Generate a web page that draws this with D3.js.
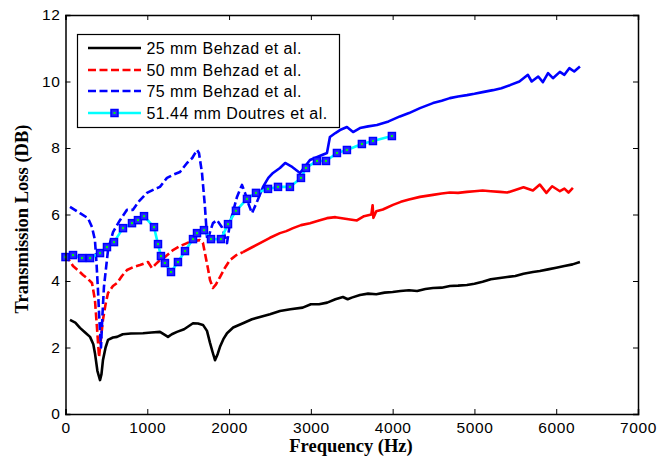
<!DOCTYPE html>
<html>
<head>
<meta charset="utf-8">
<script src="https://cdn.jsdelivr.net/npm/d3@7"></script>
<style>
  body { margin: 0; background: #fff; }
  svg { display: block; }
</style>
</head>
<body>
<svg id="chart" width="667" height="457"></svg>
<script>
// frequency (Hz) / transmission loss (dB)
const f25 = [55, 120, 177, 240, 300, 340, 360, 390, 422, 440, 458, 490, 520, 580, 630, 700, 800, 947, 1050, 1155, 1200, 1253, 1300, 1363, 1450, 1559, 1620, 1681, 1730, 1767, 1800, 1828, 1860, 1889, 1930, 1975, 2050, 2170, 2280, 2378, 2500, 2622, 2750, 2900, 3000, 3100, 3200, 3300, 3392, 3450, 3500, 3600, 3700, 3800, 3900, 4000, 4095, 4200, 4300, 4400, 4493, 4600, 4700, 4800, 4908, 5000, 5100, 5200, 5311, 5400, 5500, 5600, 5715, 5800, 5900, 6000, 6100, 6200, 6290]
const tl25 = [2.83, 2.75, 2.59, 2.45, 2.32, 2.1, 1.83, 1.3, 1.02, 1.2, 1.62, 2.0, 2.23, 2.3, 2.32, 2.4, 2.42, 2.43, 2.45, 2.47, 2.4, 2.32, 2.4, 2.47, 2.55, 2.73, 2.72, 2.68, 2.5, 2.14, 1.85, 1.62, 1.8, 2.02, 2.25, 2.43, 2.6, 2.73, 2.85, 2.92, 3.0, 3.1, 3.15, 3.2, 3.3, 3.3, 3.35, 3.45, 3.52, 3.45, 3.5, 3.58, 3.62, 3.6, 3.65, 3.67, 3.7, 3.72, 3.7, 3.76, 3.79, 3.8, 3.85, 3.86, 3.88, 3.92, 3.98, 4.05, 4.09, 4.12, 4.15, 4.22, 4.27, 4.3, 4.35, 4.4, 4.45, 4.5, 4.57]

const f50 = [0, 92, 150, 214, 280, 324, 360, 385, 410, 435, 458, 490, 520, 580, 630, 690, 752, 830, 911, 1009, 1057, 1100, 1155, 1230, 1314, 1400, 1486, 1560, 1644, 1680, 1705, 1740, 1767, 1803, 1840, 1889, 1950, 2011, 2090, 2170, 2270, 2378, 2500, 2622, 2700, 2782, 2880, 2989, 3100, 3197, 3300, 3400, 3480, 3563, 3650, 3740, 3755, 3765, 3800, 3880, 4004, 4100, 4200, 4334, 4493, 4600, 4700, 4800, 4908, 5000, 5100, 5200, 5311, 5400, 5500, 5600, 5715, 5800, 5880, 5950, 6045, 6100, 6150, 6204]
const tl50 = [4.8, 4.45, 4.33, 4.18, 4.05, 3.94, 3.43, 2.6, 1.71, 2.3, 2.83, 3.3, 3.64, 3.85, 3.94, 4.15, 4.33, 4.42, 4.48, 4.57, 4.39, 4.5, 4.63, 4.75, 4.93, 5.05, 5.14, 5.2, 5.23, 5.15, 4.84, 4.4, 4.03, 3.79, 3.9, 4.12, 4.4, 4.63, 4.78, 4.87, 5.0, 5.14, 5.3, 5.44, 5.5, 5.59, 5.68, 5.74, 5.82, 5.89, 5.92, 5.88, 5.85, 5.82, 5.95, 6.0, 6.28, 5.9, 6.1, 6.15, 6.29, 6.38, 6.45, 6.53, 6.59, 6.63, 6.66, 6.65, 6.68, 6.7, 6.72, 6.7, 6.68, 6.66, 6.74, 6.82, 6.72, 6.9, 6.65, 6.85, 6.7, 6.78, 6.66, 6.8]

const f75 = [55, 177, 275, 324, 360, 380, 397, 415, 434, 450, 470, 520, 581, 666, 752, 825, 900, 996, 1080, 1155, 1241, 1320, 1400, 1486, 1550, 1608, 1632, 1669, 1705, 1730, 1742, 1770, 1803, 1852, 1913, 1975, 2011, 2050, 2097, 2158, 2195, 2240, 2280, 2341, 2415, 2480, 2537, 2622, 2686, 2760, 2867, 2989, 3100, 3197, 3233, 3300, 3356, 3441, 3516, 3600, 3700, 3808, 3950, 4089, 4200, 4334, 4493, 4600, 4700, 4800, 4908, 5000, 5100, 5226, 5330, 5434, 5550, 5654, 5700, 5780, 5837, 5900, 5960, 6045, 6100, 6160, 6220, 6290]
const tl75 = [6.23, 6.04, 5.89, 5.62, 5.23, 4.5, 3.73, 2.8, 2.0, 2.9, 3.82, 4.93, 5.47, 5.83, 6.14, 6.14, 6.4, 6.65, 6.75, 6.83, 7.1, 7.2, 7.28, 7.55, 7.7, 7.94, 7.85, 7.25, 6.23, 5.32, 5.23, 5.5, 5.74, 5.83, 5.62, 5.14, 5.74, 6.1, 6.53, 6.89, 6.65, 6.3, 6.04, 6.38, 6.83, 7.1, 7.25, 7.4, 7.55, 7.45, 7.25, 7.64, 7.75, 7.85, 8.33, 8.45, 8.54, 8.63, 8.48, 8.6, 8.65, 8.69, 8.8, 8.95, 9.05, 9.2, 9.35, 9.42, 9.5, 9.55, 9.59, 9.63, 9.68, 9.74, 9.8, 9.89, 10.0, 10.2, 10.0, 10.15, 9.98, 10.25, 10.1, 10.29, 10.2, 10.4, 10.3, 10.45]

const fDoutres = [0, 92, 202, 300, 422, 507, 593, 703, 813, 886, 960, 1082, 1131, 1167, 1216, 1290, 1375, 1461, 1559, 1608, 1693, 1779, 1901, 1987, 2084, 2219, 2329, 2476, 2598, 2744, 2879, 2940, 3075, 3185, 3319, 3441, 3624, 3759, 3991]
const tlDoutres = [4.72, 4.78, 4.69, 4.69, 4.84, 5.02, 5.17, 5.59, 5.74, 5.83, 5.95, 5.62, 5.11, 4.75, 4.54, 4.27, 4.57, 4.9, 5.26, 5.44, 5.53, 5.26, 5.26, 5.71, 6.11, 6.47, 6.65, 6.77, 6.83, 6.83, 7.1, 7.4, 7.61, 7.61, 7.85, 7.94, 8.12, 8.21, 8.36]

const seriesNames = ['25 mm Behzad et al.', '50 mm Behzad et al.', '75 mm Behzad et al.', '51.44 mm Doutres et al.']
const xTicks = [0, 1000, 2000, 3000, 4000, 5000, 6000, 7000]
const yTicks = [0, 2, 4, 6, 8, 10, 12]

const svg = d3.select('#chart')
const plotLeft = 65.5
const plotRight = 638
const plotTop = 15
const plotBottom = 414

const x = d3.scaleLinear().domain([0, 7000]).range([plotLeft, plotRight])
const y = d3.scaleLinear().domain([0, 12]).range([plotBottom, plotTop])

const zip = (fs, vs) => fs.map((f, i) => [f, vs[i]])
const line = d3.line().x(d => x(d[0])).y(d => y(d[1]))

// dashEnd: above this frequency the noisy measured curve reads as a solid stroke
const series = [
  { data: zip(f25, tl25), color: '#000', dash: null },
  { data: zip(f50, tl50), color: '#ff0000', dash: '8,3.5', dashEnd: 2170 },
  { data: zip(f75, tl75), color: '#0000ff', dash: '8,3.5', dashEnd: 2341 },
  { data: zip(fDoutres, tlDoutres), color: '#00ffff', dash: null, markers: true }
]

const plot = svg.append('g')

function drawPath (data, color, dash) {
  plot.append('path')
    .datum(data)
    .attr('fill', 'none')
    .attr('stroke', color)
    .attr('stroke-width', 2.6)
    .attr('stroke-dasharray', dash)
    .attr('stroke-linejoin', 'round')
    .attr('d', line)
}

series.forEach(s => {
  if (s.dashEnd) {
    drawPath(s.data.filter(d => d[0] <= s.dashEnd), s.color, s.dash)
    drawPath(s.data.filter(d => d[0] >= s.dashEnd), s.color, null)
  } else {
    drawPath(s.data, s.color, s.dash)
  }
})

// square markers for the Doutres points
function drawMarker (g, cx, cy) {
  g.append('rect')
    .attr('x', cx - 3.5).attr('y', cy - 3.5)
    .attr('width', 7).attr('height', 7)
    .attr('fill', '#2a2aff')
    .attr('stroke', '#0000ff')
    .attr('stroke-width', 1.5)
  g.append('rect')
    .attr('x', cx - 1).attr('y', cy - 1)
    .attr('width', 2).attr('height', 2)
    .attr('fill', '#00ff00')
}

series[3].data.forEach(d => drawMarker(plot, x(d[0]), y(d[1])))

// axes: ticks inward on all four sides, like a boxed MATLAB axis
const font = 'Liberation Sans, Arial, sans-serif'
const serif = 'Liberation Serif, Times New Roman, serif'

const xAxis = d3.axisBottom(x).tickValues(xTicks).tickSize(-5).tickPadding(8).tickFormat(d3.format('d'))
const xAxisTop = d3.axisTop(x).tickValues(xTicks).tickSize(-5).tickFormat('')
const yAxis = d3.axisLeft(y).tickValues(yTicks).tickSize(-5).tickPadding(5)
const yAxisRight = d3.axisRight(y).tickValues(yTicks).tickSize(-5).tickFormat('')

svg.append('g').attr('transform', `translate(0,${plotBottom})`).call(xAxis)
svg.append('g').attr('transform', `translate(0,${plotTop})`).call(xAxisTop)
svg.append('g').attr('transform', `translate(${plotLeft},0)`).call(yAxis)
svg.append('g').attr('transform', `translate(${plotRight},0)`).call(yAxisRight)

svg.selectAll('.domain').attr('stroke', '#000').attr('stroke-width', 1.5)
svg.selectAll('.tick line').attr('stroke', '#000')
svg.selectAll('.tick text')
  .attr('fill', '#000')
  .style('font-family', font)
  .style('font-size', '15.5px')
  .style('letter-spacing', '0.6px')

svg.append('text')
  .attr('x', 351)
  .attr('y', 452)
  .attr('text-anchor', 'middle')
  .style('font-family', serif)
  .style('font-weight', 'bold')
  .style('font-size', '18.5px')
  .text('Frequency (Hz)')

svg.append('text')
  .attr('transform', 'translate(28,219) rotate(-90)')
  .attr('text-anchor', 'middle')
  .style('font-family', serif)
  .style('font-weight', 'bold')
  .style('font-size', '18.5px')
  .text('Transmission Loss (DB)')

// legend
const legend = svg.append('g')
legend.append('rect')
  .attr('x', 77.5).attr('y', 34.5)
  .attr('width', 262).attr('height', 93)
  .attr('fill', '#fff')
  .attr('stroke', '#000')
  .attr('stroke-width', 1.2)

const rowY = [48, 70, 91, 113]
seriesNames.forEach((name, i) => {
  const s = series[i]
  legend.append('line')
    .attr('x1', 88).attr('x2', 141)
    .attr('y1', rowY[i]).attr('y2', rowY[i])
    .attr('stroke', s.color)
    .attr('stroke-width', 2.6)
    .attr('stroke-dasharray', s.dash)
  if (s.markers) drawMarker(legend, 114.5, rowY[i])
  legend.append('text')
    .attr('x', 146.5)
    .attr('y', rowY[i] + 6)
    .style('font-family', font)
    .style('font-size', '16px')
    .style('letter-spacing', '0.45px')
    .attr('fill', '#000')
    .text(name)
})
</script>
</body>
</html>
